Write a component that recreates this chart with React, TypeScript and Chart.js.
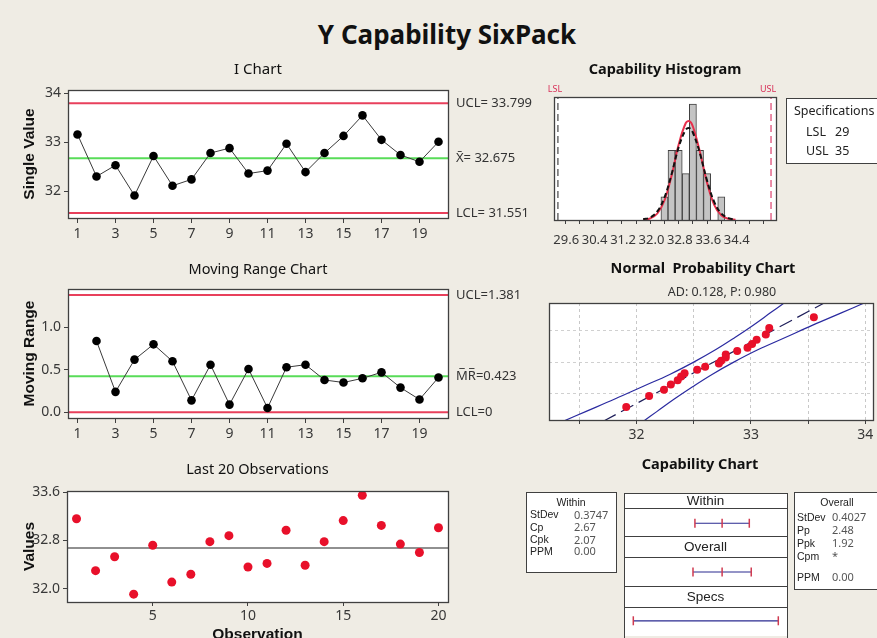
import React, { useEffect, useRef } from 'react';
import { Chart, registerables } from 'chart.js';

Chart.register(...registerables);

// ---------------- data ----------------
const observations = [1, 2, 3, 4, 5, 6, 7, 8, 9, 10, 11, 12, 13, 14, 15, 16, 17, 18, 19, 20];
const singleValues = [33.16, 32.3, 32.53, 31.91, 32.72, 32.11, 32.24, 32.78, 32.88, 32.36, 32.42, 32.97, 32.39, 32.78, 33.13, 33.55, 33.05, 32.74, 32.6, 33.01];
const movingRanges = [null, 0.84, 0.24, 0.62, 0.8, 0.6, 0.14, 0.56, 0.09, 0.51, 0.05, 0.53, 0.56, 0.38, 0.35, 0.4, 0.47, 0.29, 0.15, 0.41];

const iLimitValues = [33.799, 32.675, 31.551];
const iLimitLabels = ['UCL= 33.799', 'X\u0304= 32.675', 'LCL= 31.551'];
const mrLimitValues = [1.381, 0.423, 0];
const mrLimitLabels = ['UCL=1.381', 'M\u0305R\u0305=0.423', 'LCL=0'];

const iXTicks = [1, 3, 5, 7, 9, 11, 13, 15, 17, 19];
const iYTicks = [32, 33, 34];
const mrYTicks = [0, 0.5, 1.0];
const lastXTicks = [5, 10, 15, 20];
const lastYTicks = [32.0, 32.8, 33.6];
const lastMean = 32.675;

const histBinCenters = [32.0, 32.2, 32.4, 32.6, 32.8, 33.0, 33.2, 33.4, 33.6];
const histCounts = [1, 3, 3, 2, 5, 3, 2, 0, 1];
const curveX = [31.4, 31.6, 31.8, 32.0, 32.2, 32.4, 32.6, 32.7, 32.8, 33.0, 33.2, 33.4, 33.6, 33.8, 34.0];
const withinCurveY = [0.01, 0.07, 0.28, 0.84, 1.91, 3.25, 4.18, 4.26, 4.03, 2.92, 1.6, 0.65, 0.2, 0.05, 0.01];
const overallCurveY = [0.03, 0.11, 0.37, 0.97, 1.97, 3.14, 3.89, 3.96, 3.77, 2.86, 1.69, 0.78, 0.28, 0.08, 0.02];
const specNames = ['LSL', 'USL'];
const specValues = [29, 35];
const histXTicks = [29.2, 29.6, 30.0, 30.4, 30.8, 31.2, 31.6, 32.0, 32.4, 32.8, 33.2, 33.6, 34.0, 34.4, 34.8];
const histLabelTicks = [29.6, 30.4, 31.2, 32.0, 32.8, 33.6, 34.4];

const probZ = [-1.82, -1.38, -1.12, -0.91, -0.74, -0.58, -0.45, -0.31, -0.19, -0.06, 0.06, 0.19, 0.31, 0.45, 0.58, 0.74, 0.91, 1.12, 1.38, 1.82];
const bandZ = [-2.4, -2, -1.5, -1, -0.5, 0, 0.5, 1, 1.5, 2, 2.4];
const bandLower = [31.36, 31.56, 31.81, 32.05, 32.29, 32.5, 32.69, 32.86, 33.02, 33.17, 33.29];
const bandUpper = [32.06, 32.18, 32.33, 32.49, 32.66, 32.85, 33.06, 33.3, 33.54, 33.79, 33.99];
const fitZ = [-2.4, 2.4];
const fitX = [31.71, 33.64];
const probXTicks = [31.5, 32, 32.5, 33, 33.5, 34];
const probGridZ = [-1.28, 0, 1.28];
const probSubtitle = 'AD: 0.128, P: 0.980';

const withinStatNames = ['StDev', 'Cp', 'Cpk', 'PPM'];
const withinStatValues = ['0.3747', '2.67', '2.07', '0.00'];
const overallStatNames = ['StDev', 'Pp', 'Ppk', 'Cpm', 'PPM'];
const overallStatValues = ['0.4027', '2.48', '1.92', '*', '0.00'];
const intervalNames = ['Within', 'Overall', 'Specs'];
const intervalLow = [31.55, 31.47, 29];
const intervalMid = [32.675, 32.675, null];
const intervalHigh = [33.8, 33.88, 35];

// ---------------- styling helpers ----------------
const SANS = '"Noto Sans", "DejaVu Sans", sans-serif';
const ARIAL = '"Liberation Sans", Arial, sans-serif';
const TICK_COLOR = '#383838';
const FRAME = '#404040';
const RED = '#e8405c';
const GREEN = '#58dc58';

const common: any = {
  responsive: false,
  animation: false,
  devicePixelRatio: 1,
  events: [],
  plugins: { legend: { display: false }, tooltip: { enabled: false }, title: { display: false } },
};

function fixedTicks(values: number[]) {
  return (scale: any) => {
    scale.ticks = values.map((v) => ({ value: v }));
  };
}

function text(ctx: CanvasRenderingContext2D, str: string, x: number, y: number, font: string, color: string, align: CanvasTextAlign = 'center') {
  ctx.font = font;
  ctx.fillStyle = color;
  ctx.textAlign = align;
  ctx.textBaseline = 'middle';
  ctx.fillText(str, x, y);
}

function hline(ctx: CanvasRenderingContext2D, x1: number, x2: number, y: number) {
  ctx.beginPath();
  ctx.moveTo(x1, y);
  ctx.lineTo(x2, y);
  ctx.stroke();
}

const framePlugin = {
  id: 'frame',
  beforeDraw(chart: any) {
    const a = chart.chartArea;
    const ctx = chart.ctx;
    ctx.save();
    ctx.fillStyle = '#ffffff';
    ctx.fillRect(a.left, a.top, a.right - a.left, a.bottom - a.top);
    ctx.restore();
  },
  afterDraw(chart: any) {
    const a = chart.chartArea;
    const ctx = chart.ctx;
    ctx.save();
    ctx.strokeStyle = FRAME;
    ctx.lineWidth = 1.3;
    ctx.strokeRect(Math.round(a.left) + 0.5, Math.round(a.top) + 0.5, Math.round(a.right - a.left), Math.round(a.bottom - a.top));
    ctx.restore();
  },
};

function overlay(id: string, draw: (chart: any, ctx: CanvasRenderingContext2D) => void) {
  return {
    id,
    afterDraw(chart: any) {
      const ctx = chart.ctx;
      ctx.save();
      draw(chart, ctx);
      ctx.restore();
    },
  };
}

function xAxis(min: number, max: number, tickVals: number[], height: number, labelFn: any, extra: any = {}) {
  return {
    type: 'linear',
    min,
    max,
    afterBuildTicks: fixedTicks(tickVals),
    afterFit: (s: any) => {
      s.height = height;
    },
    grid: { drawOnChartArea: false, drawTicks: true, tickLength: 5, color: FRAME },
    border: { display: false },
    ticks: { font: { family: SANS, size: 14 }, color: TICK_COLOR, padding: 3, autoSkip: false, maxRotation: 0, minRotation: 0, callback: labelFn },
    ...extra,
  };
}

function yAxis(min: number, max: number, tickVals: number[], width: number, labelFn: any, title: string) {
  return {
    type: 'linear',
    min,
    max,
    afterBuildTicks: fixedTicks(tickVals),
    afterFit: (s: any) => {
      s.width = width;
    },
    grid: { drawOnChartArea: false, drawTicks: true, tickLength: 4, color: FRAME },
    border: { display: false },
    ticks: { font: { family: SANS, size: 14 }, color: TICK_COLOR, padding: 3, callback: labelFn },
    title: { display: true, text: title, font: { family: ARIAL, size: 15.5, weight: 'bold' }, color: '#111', padding: { top: 20, bottom: 0 } },
  };
}

function limitLines(values: number[], xMin: number, xMax: number) {
  return values.map((v, k) => ({
    type: 'line',
    data: [
      { x: xMin, y: v },
      { x: xMax, y: v },
    ],
    borderColor: k === 1 ? GREEN : RED,
    borderWidth: 2,
    pointRadius: 0,
    order: 2,
  }));
}

// ---------------- chart configs ----------------
function iChartConfig() {
  return {
    type: 'line',
    data: {
      datasets: [
        {
          data: observations.map((x, i) => ({ x, y: singleValues[i] })),
          borderColor: '#3a3a3a',
          borderWidth: 1,
          pointRadius: 4.3,
          pointBackgroundColor: '#000',
          pointBorderColor: '#000',
          pointBorderWidth: 0,
          order: 0,
        },
        ...limitLines(iLimitValues, 0.5, 20.5),
      ],
    },
    options: {
      ...common,
      layout: { padding: { left: 0, right: 97, top: 32, bottom: 0 } },
      scales: {
        x: xAxis(0.5, 20.5, iXTicks, 30, (v: number) => String(v)),
        y: yAxis(31.45, 34.07, iYTicks, 68, (v: number) => String(v), 'Single Value'),
      },
    },
    plugins: [
      framePlugin,
      overlay('iText', (chart, ctx) => {
        const a = chart.chartArea;
        const y = chart.scales.y;
        text(ctx, 'I Chart', (a.left + a.right) / 2, 12, `15px ${SANS}`, '#111');
        iLimitValues.forEach((v, k) => text(ctx, iLimitLabels[k], a.right + 8, y.getPixelForValue(v), `13px ${SANS}`, '#333', 'left'));
      }),
    ],
  };
}

function mrChartConfig() {
  return {
    type: 'line',
    data: {
      datasets: [
        {
          data: observations.slice(1).map((x, i) => ({ x, y: movingRanges[i + 1] })),
          borderColor: '#3a3a3a',
          borderWidth: 1,
          pointRadius: 4.3,
          pointBackgroundColor: '#000',
          pointBorderColor: '#000',
          pointBorderWidth: 0,
          order: 0,
        },
        ...limitLines(mrLimitValues, 0.5, 20.5),
      ],
    },
    options: {
      ...common,
      layout: { padding: { left: 0, right: 97, top: 37, bottom: 0 } },
      scales: {
        x: xAxis(0.5, 20.5, iXTicks, 29, (v: number) => String(v)),
        y: yAxis(-0.068, 1.452, mrYTicks, 68, (v: number) => v.toFixed(1), 'Moving Range'),
      },
    },
    plugins: [
      framePlugin,
      overlay('mrText', (chart, ctx) => {
        const a = chart.chartArea;
        const y = chart.scales.y;
        text(ctx, 'Moving Range Chart', (a.left + a.right) / 2, 18, `14.5px ${SANS}`, '#111');
        mrLimitValues.forEach((v, k) => text(ctx, mrLimitLabels[k], a.right + 8, y.getPixelForValue(v), `13px ${SANS}`, '#333', 'left'));
      }),
    ],
  };
}

function lastChartConfig() {
  const x: any = xAxis(0.5, 20.5, lastXTicks, 50, (v: number) => String(v));
  x.grid.tickLength = 4;
  x.ticks.padding = 2;
  x.title = { display: true, text: 'Observation', font: { family: ARIAL, size: 15.5, weight: 'bold' }, color: '#111', padding: { top: 0, bottom: 8 } };
  return {
    type: 'line',
    data: {
      datasets: [
        {
          data: observations.map((xv, i) => ({ x: xv, y: singleValues[i] })),
          showLine: false,
          pointRadius: 4.5,
          pointBackgroundColor: '#e8102a',
          pointBorderColor: '#e8102a',
          pointBorderWidth: 0,
          order: 0,
        },
        {
          data: [
            { x: 0.5, y: lastMean },
            { x: 20.5, y: lastMean },
          ],
          borderColor: '#222',
          borderWidth: 1.2,
          pointRadius: 0,
          order: 1,
        },
      ],
    },
    options: {
      ...common,
      layout: { padding: { left: 0, right: 97, top: 39, bottom: 0 } },
      scales: {
        x,
        y: yAxis(31.78, 33.62, lastYTicks, 67, (v: number) => v.toFixed(1), 'Values'),
      },
    },
    plugins: [
      framePlugin,
      overlay('lastText', (chart, ctx) => {
        const a = chart.chartArea;
        text(ctx, 'Last 20 Observations', (a.left + a.right) / 2, 18, `14.5px ${SANS}`, '#111');
      }),
    ],
  };
}

function histConfig() {
  return {
    type: 'bar',
    data: {
      datasets: [
        {
          type: 'bar',
          data: histBinCenters.map((x, i) => ({ x, y: histCounts[i] })),
          backgroundColor: '#c4c4c4',
          borderColor: '#404040',
          borderWidth: 1,
          barPercentage: 1,
          categoryPercentage: 1,
          order: 3,
        },
        {
          type: 'line',
          data: curveX.map((x, i) => ({ x, y: withinCurveY[i] })),
          borderColor: '#e8304c',
          borderWidth: 2,
          pointRadius: 0,
          tension: 0.4,
          order: 1,
        },
        {
          type: 'line',
          data: curveX.map((x, i) => ({ x, y: overallCurveY[i] })),
          borderColor: '#111',
          borderWidth: 2,
          borderDash: [5, 3],
          pointRadius: 0,
          tension: 0.4,
          order: 0,
        },
        ...specValues.map((v, k) => ({
          type: 'line',
          data: [
            { x: v, y: 0 },
            { x: v, y: 5.3 },
          ],
          borderColor: k === 0 ? '#555' : '#e0507a',
          borderWidth: 1.3,
          borderDash: [7, 4],
          pointRadius: 0,
          order: 2,
        })),
      ],
    },
    options: {
      ...common,
      layout: { padding: { left: 14, right: 101, top: 39, bottom: 0 } },
      scales: {
        x: {
          type: 'linear',
          min: 28.89,
          max: 35.14,
          offset: false,
          afterBuildTicks: fixedTicks(histXTicks),
          afterFit: (s: any) => {
            s.height = 33;
          },
          grid: { drawOnChartArea: false, drawTicks: true, tickLength: 4, color: FRAME, offset: false },
          border: { display: false },
          ticks: {
            font: { family: SANS, size: 13 },
            color: TICK_COLOR,
            padding: 8,
            labelOffset: -13,
            autoSkip: false,
            maxRotation: 0,
            minRotation: 0,
            callback: (v: number) => (histLabelTicks.some((t) => Math.abs(t - v) < 1e-6) ? v.toFixed(1) : ''),
          },
        },
        y: { type: 'linear', min: 0, max: 5.3, display: false },
      },
    },
    plugins: [
      framePlugin,
      overlay('histText', (chart, ctx) => {
        const a = chart.chartArea;
        const xs = chart.scales.x;
        text(ctx, 'Capability Histogram', (a.left + a.right) / 2, 12, `bold 14.5px ${SANS}`, '#111');
        specValues.forEach((v, k) => text(ctx, specNames[k], xs.getPixelForValue(v) - 3, 31, `9px ${SANS}`, '#d83058'));
        // specifications box
        ctx.fillStyle = '#ffffff';
        ctx.fillRect(246.5, 40.5, 100, 65);
        ctx.strokeStyle = FRAME;
        ctx.lineWidth = 1;
        ctx.strokeRect(246.5, 40.5, 100, 65);
        text(ctx, 'Specifications', 254, 53, `12.5px ${SANS}`, '#222', 'left');
        specValues.forEach((v, k) => {
          text(ctx, specNames[k], 266, 74 + k * 19.5, `12.5px ${SANS}`, '#222', 'left');
          text(ctx, String(v), 295, 74 + k * 19.5, `12.5px ${SANS}`, '#222', 'left');
        });
      }),
    ],
  };
}

function probConfig() {
  const sortedValues = [...singleValues].sort((p, q) => p - q);
  return {
    type: 'line',
    data: {
      datasets: [
        {
          data: sortedValues.map((x, i) => ({ x, y: probZ[i] })),
          showLine: false,
          pointRadius: 4,
          pointBackgroundColor: '#e8102a',
          pointBorderColor: '#e8102a',
          pointBorderWidth: 0,
          order: 0,
        },
        {
          data: fitX.map((x, i) => ({ x, y: fitZ[i] })),
          borderColor: '#1e1e5a',
          borderWidth: 1.2,
          borderDash: [14, 6],
          pointRadius: 0,
          order: 1,
        },
        {
          data: bandLower.map((x, i) => ({ x, y: bandZ[i] })),
          borderColor: '#2a2aa0',
          borderWidth: 1.2,
          pointRadius: 0,
          tension: 0.4,
          order: 2,
        },
        {
          data: bandUpper.map((x, i) => ({ x, y: bandZ[i] })),
          borderColor: '#2a2aa0',
          borderWidth: 1.2,
          pointRadius: 0,
          tension: 0.4,
          order: 2,
        },
      ],
    },
    options: {
      ...common,
      layout: { padding: { left: 0, right: 1, top: 51, bottom: 0 } },
      scales: {
        x: {
          type: 'linear',
          min: 31.235,
          max: 34.067,
          afterBuildTicks: fixedTicks(probXTicks),
          afterFit: (s: any) => {
            s.height = 32;
          },
          grid: { drawOnChartArea: true, drawTicks: true, tickLength: 4, color: '#c8c8c8', tickColor: FRAME },
          border: { display: false, dash: [3, 3] },
          ticks: {
            font: { family: SANS, size: 14 },
            color: TICK_COLOR,
            padding: 3,
            autoSkip: false,
            maxRotation: 0,
            minRotation: 0,
            callback: (v: number) => (Number.isInteger(v) ? String(v) : ''),
          },
        },
        y: {
          type: 'linear',
          min: -2.35,
          max: 2.4,
          afterBuildTicks: fixedTicks(probGridZ),
          afterFit: (s: any) => {
            s.width = 9;
          },
          grid: { drawOnChartArea: true, drawTicks: false, color: '#d0d0d0' },
          border: { display: false, dash: [3, 3] },
          ticks: { display: false },
        },
      },
    },
    plugins: [
      framePlugin,
      overlay('probText', (chart, ctx) => {
        text(ctx, 'Normal  Probability Chart', 163, 17, `bold 14.5px ${SANS}`, '#111');
        text(ctx, probSubtitle, 182, 40, `12.5px ${SANS}`, '#333');
      }),
    ],
  };
}

const HEADER_SPANS = [
  [0, 0.31],
  [0.89, 1.31],
  [1.91, 2.33],
];

function capConfig() {
  const datasets: any[] = intervalNames.map((name, k) => {
    const xs = [intervalLow[k], intervalMid[k], intervalHigh[k]].filter((v) => v !== null) as number[];
    return {
      label: name,
      data: xs.map((x) => ({ x, y: k + 0.62 })),
      borderColor: '#2a2a90',
      borderWidth: 1.2,
      pointStyle: 'line',
      rotation: 90,
      pointRadius: 4.5,
      pointBorderColor: '#d03a50',
      pointBorderWidth: 1.5,
    };
  });
  return {
    type: 'line',
    data: { datasets },
    options: {
      ...common,
      layout: { padding: { left: 104, right: 90, top: 43, bottom: 0 } },
      scales: {
        x: { type: 'linear', min: 28.615, max: 35.36, display: false },
        y: { type: 'linear', min: 0, max: 2.85, reverse: true, display: false },
      },
    },
    plugins: [
      {
        id: 'capChart',
        beforeDatasetsDraw(chart: any) {
          const ctx: CanvasRenderingContext2D = chart.ctx;
          const a = chart.chartArea;
          const ys = chart.scales.y;
          ctx.save();
          text(ctx, 'Capability Chart', 180, 15, `bold 14.5px ${SANS}`, '#111');
          // center column
          ctx.fillStyle = '#ffffff';
          ctx.fillRect(a.left, a.top, a.right - a.left, a.bottom - a.top + 4);
          ctx.strokeStyle = FRAME;
          ctx.lineWidth = 1;
          ctx.strokeRect(Math.round(a.left) + 0.5, Math.round(a.top) + 0.5, Math.round(a.right - a.left), a.bottom - a.top + 10);
          HEADER_SPANS.forEach(([t, b], k) => {
            const yt = Math.round(ys.getPixelForValue(t)) + 0.5;
            const yb = Math.round(ys.getPixelForValue(b)) + 0.5;
            hline(ctx, a.left, a.right, yt);
            hline(ctx, a.left, a.right, yb);
            text(ctx, intervalNames[k], (a.left + a.right) / 2, (yt + yb) / 2 + 0.5, `13.5px ${ARIAL}`, '#222');
          });
          // within stats box
          ctx.fillStyle = '#ffffff';
          ctx.fillRect(6.5, 42.5, 90, 80);
          ctx.strokeRect(6.5, 42.5, 90, 80);
          text(ctx, 'Within', 51, 53, `10.5px ${ARIAL}`, '#222');
          const wRows = [65.5, 78, 90.5, 102];
          withinStatNames.forEach((n, i) => {
            text(ctx, n, 10, wRows[i], `10.5px ${ARIAL}`, '#222', 'left');
            text(ctx, withinStatValues[i], 54, wRows[i], `11px ${SANS}`, '#555', 'left');
          });
          // overall stats box
          ctx.fillStyle = '#ffffff';
          ctx.fillRect(274.5, 42.5, 100, 97);
          ctx.strokeRect(274.5, 42.5, 100, 97);
          text(ctx, 'Overall', 317, 53, `10.5px ${ARIAL}`, '#222');
          const oRows = [68, 81, 94, 107, 128];
          overallStatNames.forEach((n, i) => {
            text(ctx, n, 277, oRows[i], `10.5px ${ARIAL}`, '#222', 'left');
            text(ctx, overallStatValues[i], 312, oRows[i], `11px ${SANS}`, '#555', 'left');
          });
          ctx.restore();
        },
      },
    ],
  };
}

// ---------------- components ----------------
function ChartCanvas({ left, top, width, height, make }: any) {
  const ref = useRef<HTMLCanvasElement | null>(null);
  useEffect(() => {
    if (!ref.current) return;
    const chart = new Chart(ref.current, make());
    return () => chart.destroy();
  }, []);
  return (
    <div style={{ position: 'absolute', left, top, width, height }}>
      <canvas ref={ref} width={width} height={height} style={{ display: 'block', width, height }} />
    </div>
  );
}

export default function App() {
  return (
    <div
      style={{
        position: 'fixed',
        left: 0,
        top: 0,
        width: 877,
        height: 638,
        overflow: 'hidden',
        background: '#efece4',
      }}
    >
      <div
        style={{
          position: 'absolute',
          left: 0,
          top: 16,
          width: 894,
          textAlign: 'center',
          fontFamily: SANS,
          fontWeight: 'bold',
          fontSize: 26,
          lineHeight: '36px',
          color: '#111',
        }}
      >
        Y Capability SixPack
      </div>
      <ChartCanvas left={0} top={58} width={545} height={190} make={iChartConfig} />
      <ChartCanvas left={0} top={252} width={545} height={195} make={mrChartConfig} />
      <ChartCanvas left={0} top={452} width={545} height={200} make={lastChartConfig} />
      <ChartCanvas left={540} top={58} width={337} height={195} make={histConfig} />
      <ChartCanvas left={540} top={252} width={337} height={200} make={probConfig} />
      <ChartCanvas left={520} top={450} width={357} height={188} make={capConfig} />
    </div>
  );
}
